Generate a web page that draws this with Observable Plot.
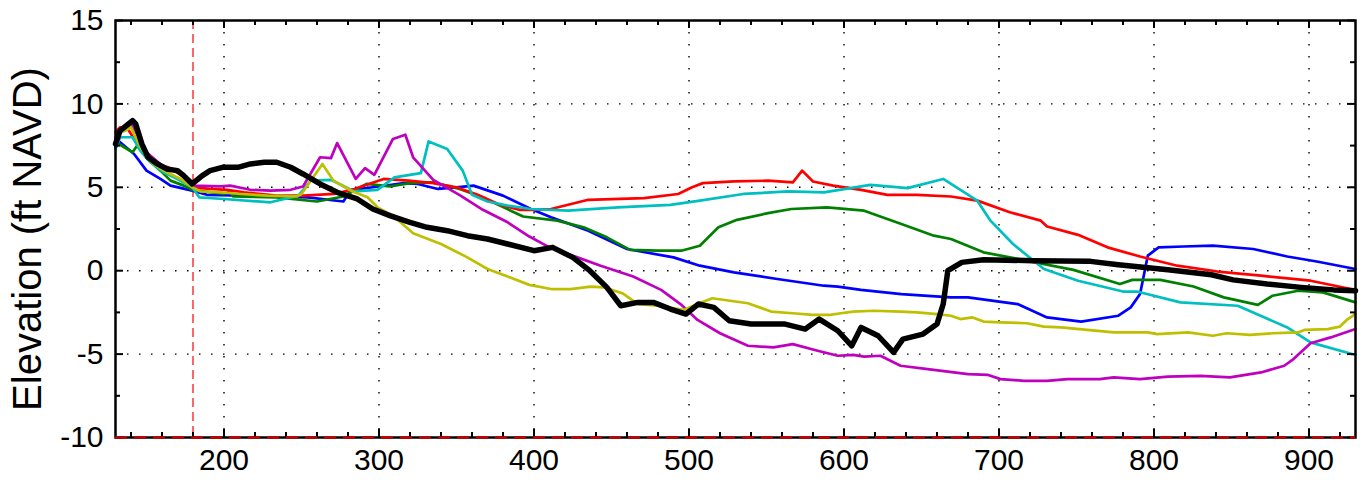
<!DOCTYPE html>
<html>
<head>
<meta charset="utf-8">
<script src="https://cdn.jsdelivr.net/npm/d3@7"></script>
<script src="https://cdn.jsdelivr.net/npm/@observablehq/plot@0.6"></script>
<style>
  html, body { margin: 0; padding: 0; background: #fff; }
  #chart { width: 1363px; height: 486px; overflow: hidden; }
</style>
</head>
<body>
<div id="chart"></div>
<script>
// ---- tick labels / axes ----
const xDomain = [130, 930];
const yDomain = [-10, 15];
const xTicks = [200, 300, 400, 500, 600, 700, 800, 900];
const xMinor = [140, 160, 180, 220, 240, 260, 280, 320, 340, 360, 380, 420, 440, 460, 480, 520, 540, 560, 580, 620, 640, 660, 680, 720, 740, 760, 780, 820, 840, 860, 880, 920];
const yTicks = [-10, -5, 0, 5, 10, 15];
const yMinor = [-7.5, -2.5, 2.5, 7.5, 12.5];
const yLabel = "Elevation (ft NAVD)";
const refX = 180;
const refY = -10;

// ---- series (station, elevation) ----
const blueX = [130,133,142,150,159,165.5,179.5,189,213,254,277,282,300,316,325,338,350,361,380,398,411,435,460,490,507,529,557,587,596,611,637,669,680,712,731,753,777,785,791,796,803,819,838,864,886,905,930];
const blueY = [7.4,7.7,7.0,6.0,5.5,5.1,4.8,4.55,4.5,4.4,4.15,4.85,5.05,5.25,5.2,4.9,5.0,5.1,4.5,3.7,3.2,2.4,1.3,0.8,0.3,-0.1,-0.5,-0.9,-0.95,-1.15,-1.4,-1.6,-1.6,-2.0,-2.8,-3.05,-2.7,-2.2,-1.4,0.9,1.4,1.45,1.5,1.3,0.85,0.55,0.1];

const greenX = [130,133,141,144,150.5,159,165.5,174,179.5,200,204,206,234,260,277,292,307,320,335,352,365.5,378,393,415,432,447,462,480,495,507,519,531,551,566,589,613,637,658,669,690,707,748,778,786,804,825.5,845,867,876.5,893,909,930];
const greenY = [7.6,7.55,7.1,7.5,6.7,6.0,5.4,5.1,4.85,4.6,4.75,4.45,4.4,4.15,4.45,5.2,5.05,5.25,5.3,4.9,4.45,3.9,3.25,3.0,2.6,2.0,1.25,1.2,1.2,1.5,2.6,3.05,3.45,3.7,3.8,3.6,2.8,2.1,1.9,1.1,0.8,0.05,-0.8,-0.55,-0.55,-0.95,-1.6,-2.05,-1.5,-1.2,-1.3,-1.9];

const redX = [130,133,138,148,157,164,173,179.5,191,202,213,234,251,271,284,303,319,335,350,365,378,391,398,411,435,471,493,502,509,529,551,567,573,580,593,611,628,647,669,686,707,727,731,751,770,791,815,841,869,901,927,930];
const redY = [8.3,8.6,8.5,7.0,6.4,6.2,5.7,5.0,4.9,4.85,4.7,4.5,4.5,4.6,4.9,5.5,5.4,5.25,5.0,4.5,3.95,3.65,3.65,3.7,4.25,4.35,4.6,5.0,5.25,5.35,5.4,5.3,6.0,5.35,5.1,4.85,4.55,4.55,4.45,4.2,3.5,3.0,2.65,2.15,1.4,0.85,0.3,-0.05,-0.3,-0.6,-1.1,-1.2];

const cyanX = [130,133,141,146,152.6,161,170,179.5,184,200,230,248,256,269,284,299,310,327,332,344,354,360,370,383,398,422,454,488,507,535,564,587,617,641,664,686,694.5,709,729,751,780,789,817,854,886,901,930];
const cyanY = [7.3,8.0,8.0,7.2,6.5,5.9,5.5,5.0,4.4,4.3,4.1,4.5,5.4,5.45,4.75,4.85,5.6,5.85,7.75,7.3,6.0,4.55,4.15,3.9,3.7,3.6,3.8,3.95,4.2,4.6,4.75,4.7,5.15,4.95,5.5,4.2,3.0,1.6,0.1,-0.6,-1.25,-1.25,-1.9,-2.1,-3.4,-4.3,-5.05];

const magentaX = [130,135,141,150,160,170,176,180,198,204,217,230,243,251,262,269,273,285,291,297,309,317,322,335,352.6,367,383,397,410,428,443,464,482,494.5,505.5,520,538,554.5,567,583,596,606,613,623.5,636.5,654,667,680,693,701,716,731,744,765,774,791,809,830,849,869,884,890,901,914,930];
const magentaY = [8.0,8.4,8.7,7.1,6.3,5.9,5.6,5.1,5.05,5.1,4.85,4.8,4.85,5.05,6.8,6.75,7.65,5.5,6.15,5.75,7.9,8.15,6.8,5.45,4.5,3.65,2.9,2.05,1.4,0.8,0.3,-0.35,-1.15,-2.0,-2.95,-3.75,-4.5,-4.6,-4.4,-4.8,-5.1,-5.05,-5.15,-5.1,-5.7,-5.9,-6.05,-6.2,-6.25,-6.5,-6.6,-6.6,-6.5,-6.5,-6.4,-6.5,-6.35,-6.3,-6.4,-6.1,-5.7,-5.3,-4.35,-4.0,-3.5];

const yellowX = [130,136.5,140,146,154.5,163,172,179.5,185,198,211,228,247,250,263.5,270.6,283,292.6,299,309,322,340,357,370,383,397,411,423.5,436.5,445,457,467,480,496.5,505.5,515,538,553,567,580,591,598,606,619,636.5,647,660,669,675,683,690,701,718,729,740,757,774,796,802,822,838,847,862,877,893,897,912,920,925,930];
const yellowY = [8.2,8.4,8.6,7.4,6.4,5.9,5.5,5.0,4.75,4.7,4.6,4.5,4.45,4.6,6.4,5.4,4.75,4.4,3.8,3.3,2.25,1.6,0.8,0.1,-0.35,-0.85,-1.1,-1.1,-0.95,-1.0,-1.35,-2.0,-2.1,-2.35,-2.0,-1.65,-1.95,-2.45,-2.55,-2.65,-2.65,-2.55,-2.45,-2.4,-2.45,-2.5,-2.6,-2.7,-2.9,-2.8,-3.05,-3.1,-3.15,-3.35,-3.4,-3.55,-3.7,-3.7,-3.8,-3.7,-3.9,-3.75,-3.85,-3.75,-3.7,-3.55,-3.5,-3.35,-2.9,-2.6];

const blackX = [130,133,141,143,147,151,157,163,170,174,179.5,186,191,199,209,217,226,234,243,251,262,273,286,296,307,320,331,344,357,370,383,400,412,425,436,447,456,467,477,488,498,506,516,526,540,551,562,575,584,596,605,611,622,632,638,651,660,664,667,676,690,722,759,777,809,837,851,873,895,916,930];
const blackY = [7.6,8.4,9.0,8.8,7.6,6.8,6.4,6.1,6.0,5.7,5.2,5.7,6.0,6.2,6.2,6.4,6.5,6.5,6.2,5.8,5.2,4.7,4.3,3.7,3.3,2.9,2.6,2.4,2.1,1.9,1.6,1.2,1.4,0.8,0.0,-1.0,-2.1,-1.9,-1.9,-2.3,-2.6,-2.0,-2.2,-3.0,-3.2,-3.2,-3.2,-3.5,-2.9,-3.6,-4.5,-3.4,-3.9,-4.9,-4.1,-3.8,-3.2,-2.0,0.0,0.5,0.66,0.6,0.56,0.36,0.06,-0.24,-0.55,-0.8,-1.0,-1.15,-1.2];

const seriesList = [
  {xs: blueX, ys: blueY, color: "#0000ff", w: 2.7},
  {xs: greenX, ys: greenY, color: "#008000", w: 2.7},
  {xs: redX, ys: redY, color: "#ff0000", w: 2.7},
  {xs: cyanX, ys: cyanY, color: "#00bfbf", w: 2.7},
  {xs: magentaX, ys: magentaY, color: "#bf00bf", w: 2.7},
  {xs: yellowX, ys: yellowY, color: "#bfbf00", w: 2.7},
  {xs: blackX, ys: blackY, color: "#000000", w: 5.5}
];

const W = 1363, H = 486, mL = 115, mR = 8, mT = 20, mB = 49;
const frameW = W - mL - mR, frameH = H - mT - mB;
const majorLen = 8, minorLen = 5;

const font = "'Liberation Sans', Arial, Helvetica, sans-serif";
const lineMarks = seriesList.map(s => {
  const rows = s.xs.map((x, i) => ({x, y: s.ys[i]}));
  return Plot.line(rows, {x: "x", y: "y", stroke: s.color, strokeWidth: s.w, strokeLinejoin: "round", strokeLinecap: "round"});
});

const dotted = {stroke: "#000", strokeOpacity: 1, strokeWidth: 1.4, strokeDasharray: "1.5,10.5"};
const tickStyle = {stroke: "#000", strokeWidth: 2};
const fmt = d => String(d);

const chart = Plot.plot({
  width: W,
  height: H,
  marginLeft: mL,
  marginRight: mR,
  marginTop: mT,
  marginBottom: mB,
  style: {fontFamily: font, background: "#fff", color: "#000"},
  x: {domain: xDomain, label: null},
  y: {domain: yDomain, label: null},
  marks: [
    Plot.gridX(xTicks, dotted),
    Plot.gridY(yTicks.filter(v => v > yDomain[0] && v < yDomain[1]), dotted),
    Plot.ruleX([refX], {stroke: "#ff0000", strokeWidth: 1.2, strokeDasharray: "9,5"}),
    ...lineMarks,
    // inward ticks: bottom / top
    Plot.tickX(xTicks, {x: d => d, insetTop: frameH - majorLen, ...tickStyle}),
    Plot.tickX(xMinor, {x: d => d, insetTop: frameH - minorLen, ...tickStyle}),
    Plot.tickX(xTicks, {x: d => d, insetBottom: frameH - majorLen, ...tickStyle}),
    Plot.tickX(xMinor, {x: d => d, insetBottom: frameH - minorLen, ...tickStyle}),
    // inward ticks: left / right
    Plot.tickY(yTicks, {y: d => d, insetRight: frameW - majorLen, ...tickStyle}),
    Plot.tickY(yMinor, {y: d => d, insetRight: frameW - minorLen, ...tickStyle}),
    Plot.tickY(yTicks, {y: d => d, insetLeft: frameW - majorLen, ...tickStyle}),
    Plot.tickY(yMinor, {y: d => d, insetLeft: frameW - minorLen, ...tickStyle}),
    // tick labels
    Plot.axisX(xTicks, {anchor: "bottom", tickSize: 0, tickPadding: 11, fontSize: 30, tickFormat: fmt, label: null}),
    Plot.axisY(yTicks, {anchor: "left", tickSize: 0, tickPadding: 12, fontSize: 30, tickFormat: fmt, label: null}),
    Plot.frame({stroke: "#000", strokeWidth: 2.5}),
    Plot.ruleY([refY], {stroke: "#c40000", strokeWidth: 2.5, strokeDasharray: "12,7"}),
    Plot.text([yLabel], {frameAnchor: "left", rotate: -90, dx: -87, dy: 10, fontSize: 40, lineAnchor: "middle", textAnchor: "middle", fill: "#000"})
  ]
});
document.getElementById("chart").appendChild(chart);
</script>
</body>
</html>
